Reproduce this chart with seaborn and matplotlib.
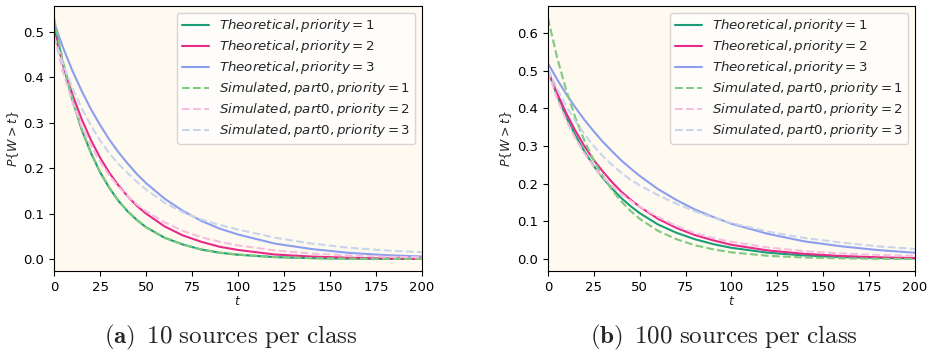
import matplotlib
matplotlib.use("Agg")
import matplotlib.pyplot as plt
import seaborn as sns
import pandas as pd

# Waiting time grid (shared by every curve)
t_grid = [0, 5, 10, 15, 20, 25, 30, 35, 40, 45, 50,
          60, 70, 80, 90, 100, 120, 140, 160, 180, 200]

# (a) 10 sources per class
a_theo_p1 = [0.520, 0.426, 0.349, 0.285, 0.234, 0.191, 0.157, 0.128, 0.105, 0.086, 0.070,
             0.047, 0.032, 0.021, 0.014, 0.0095, 0.0043, 0.0019, 0.0009, 0.0004, 0.0002]
a_theo_p2 = [0.500, 0.426, 0.362, 0.308, 0.262, 0.223, 0.190, 0.162, 0.138, 0.117, 0.100,
             0.072, 0.052, 0.038, 0.027, 0.020, 0.010, 0.0055, 0.0029, 0.0015, 0.0008]
a_theo_p3 = [0.520, 0.464, 0.414, 0.370, 0.330, 0.295, 0.263, 0.235, 0.210, 0.187, 0.167,
             0.133, 0.106, 0.084, 0.067, 0.054, 0.034, 0.022, 0.0137, 0.0087, 0.0055]
a_sim_p1 = [0.530, 0.432, 0.352, 0.287, 0.235, 0.192, 0.157, 0.128, 0.105, 0.086, 0.070,
            0.047, 0.032, 0.021, 0.014, 0.010, 0.0045, 0.002, 0.001, 0.0005, 0.0003]
a_sim_p2 = [0.490, 0.410, 0.345, 0.292, 0.250, 0.214, 0.184, 0.159, 0.138, 0.120, 0.105,
            0.081, 0.062, 0.048, 0.038, 0.030, 0.019, 0.012, 0.008, 0.005, 0.004]
a_sim_p3 = [0.490, 0.428, 0.376, 0.332, 0.294, 0.261, 0.233, 0.209, 0.189, 0.170, 0.153,
            0.124, 0.103, 0.087, 0.075, 0.065, 0.047, 0.034, 0.025, 0.019, 0.015]

# (b) 100 sources per class
b_theo_p1 = [0.500, 0.434, 0.377, 0.328, 0.285, 0.247, 0.215, 0.187, 0.162, 0.141, 0.122,
             0.092, 0.070, 0.053, 0.040, 0.030, 0.017, 0.0097, 0.0055, 0.0031, 0.0018]
b_theo_p2 = [0.500, 0.440, 0.387, 0.340, 0.299, 0.263, 0.232, 0.204, 0.179, 0.158, 0.139,
             0.107, 0.083, 0.064, 0.050, 0.038, 0.023, 0.014, 0.0083, 0.0049, 0.003]
b_theo_p3 = [0.520, 0.477, 0.438, 0.402, 0.369, 0.339, 0.311, 0.286, 0.262, 0.241, 0.221,
             0.186, 0.157, 0.132, 0.112, 0.094, 0.067, 0.047, 0.034, 0.024, 0.017]
b_sim_p1 = [0.640, 0.535, 0.448, 0.375, 0.313, 0.262, 0.219, 0.183, 0.153, 0.128, 0.107,
            0.075, 0.053, 0.037, 0.026, 0.018, 0.0088, 0.0043, 0.0021, 0.001, 0.0005]
b_sim_p2 = [0.500, 0.425, 0.368, 0.320, 0.280, 0.246, 0.218, 0.194, 0.173, 0.155, 0.139,
            0.112, 0.088, 0.069, 0.056, 0.046, 0.031, 0.021, 0.015, 0.011, 0.009]
b_sim_p3 = [0.505, 0.452, 0.406, 0.366, 0.331, 0.300, 0.273, 0.250, 0.229, 0.211, 0.196,
            0.170, 0.147, 0.127, 0.110, 0.096, 0.073, 0.056, 0.044, 0.034, 0.027]

priorities = [1, 2, 3]
theo_colors = ["#1b9e77", "#e7298a", "#8c9eed"]
sim_colors = ["#7fca7f", "#f7bde0", "#c9d5ec"]
captions = [r"$\mathbf{(a)}\ \,\mathrm{10\ sources\ per\ class}$",
            r"$\mathbf{(b)}\ \,\mathrm{100\ sources\ per\ class}$"]
caption_x = [0.248, 0.778]
x_ticks = [0, 25, 50, 75, 100, 125, 150, 175, 200]

panels = [
    ([a_theo_p1, a_theo_p2, a_theo_p3], [a_sim_p1, a_sim_p2, a_sim_p3]),
    ([b_theo_p1, b_theo_p2, b_theo_p3], [b_sim_p1, b_sim_p2, b_sim_p3]),
]

sns.set_style("ticks")
plt.rcParams["font.family"] = ["DejaVu Sans"]
plt.rcParams["mathtext.fontset"] = "dejavusans"

fig = plt.figure(figsize=(9.3, 3.55), dpi=100)
axes_rects = [[0.0581, 0.2366, 0.3957, 0.7465],
              [0.5892, 0.2366, 0.3946, 0.7465]]

for rect, (theo, sim), caption, cx in zip(axes_rects, panels, captions, caption_x):
    ax = fig.add_axes(rect)
    ax.set_facecolor("#fefaf0")
    for p, vals, c in zip(priorities, theo, theo_colors):
        df = pd.DataFrame({"t": t_grid, "P": vals})
        sns.lineplot(data=df, x="t", y="P", ax=ax, color=c, linewidth=1.5,
                     label=rf"$Theoretical, priority = {p}$")
    for p, vals, c in zip(priorities, sim, sim_colors):
        df = pd.DataFrame({"t": t_grid, "P": vals})
        sns.lineplot(data=df, x="t", y="P", ax=ax, color=c, linewidth=1.5,
                     linestyle="--", label=rf"$Simulated, part0, priority = {p}$")
    ax.set_xlim(0, 200)
    ax.set_xticks(x_ticks)
    ax.set_xlabel(r"$t$", fontsize=9, labelpad=1)
    ax.set_ylabel(r"$P\{W > t\}$", fontsize=9, labelpad=2)
    ax.tick_params(labelsize=9.5, length=3.5, width=0.8, colors="black")
    for s in ax.spines.values():
        s.set_color("black")
        s.set_linewidth(0.8)
    ax.legend(loc="upper right", fontsize=9.6, frameon=True, framealpha=0.8,
              edgecolor="#cccccc", fancybox=True, labelspacing=0.3,
              borderpad=0.35)
    fig.text(cx, 0.05, caption, ha="center", va="center", fontsize=18,
             math_fontfamily="cm")

fig.savefig("out.png", dpi=100)
